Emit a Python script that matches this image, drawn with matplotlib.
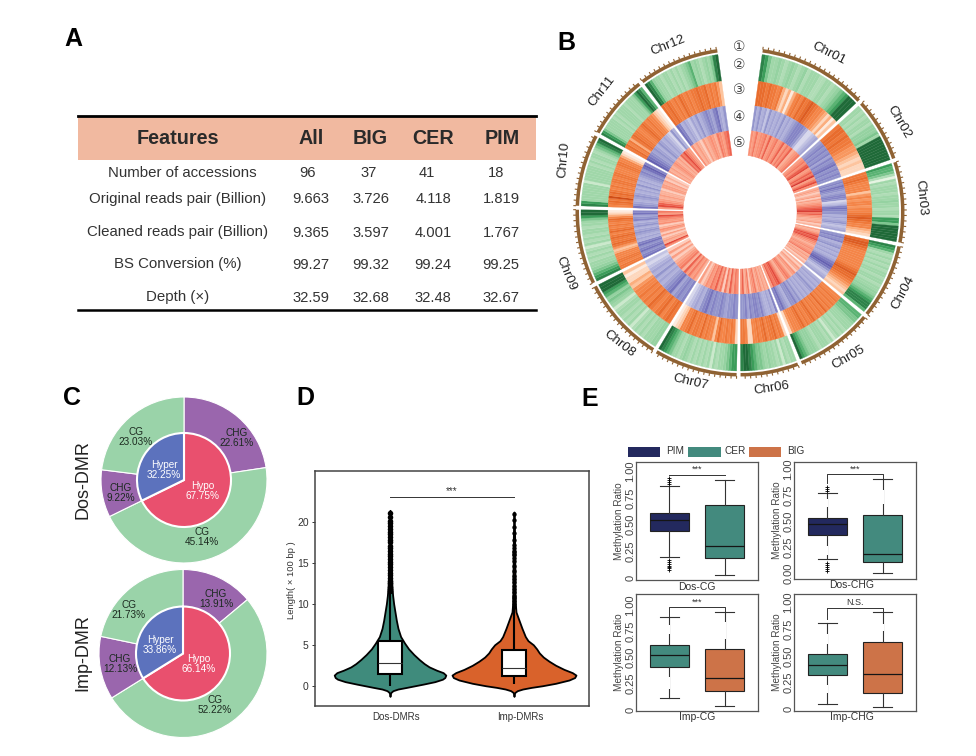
import numpy as np
import matplotlib
matplotlib.use("Agg")
import matplotlib.pyplot as plt
from matplotlib.colors import LinearSegmentedColormap
from matplotlib.patches import Rectangle

plt.rcParams['font.family'] = ['Liberation Sans', 'DejaVu Sans']

W, H = 976, 756

# table (panel A)
table_head = ["Features", "All", "BIG", "CER", "PIM"]
table_rows = ["Number of accessions", "Original reads pair (Billion)", "Cleaned reads pair (Billion)",
              "BS Conversion (%)", "Depth (×)"]
table_all = ["96", "9.663", "9.365", "99.27", "32.59"]
table_big = ["37", "3.726", "3.597", "99.32", "32.68"]
table_cer = ["41", "4.118", "4.001", "99.24", "32.48"]
table_pim = ["18", "1.819", "1.767", "99.25", "32.67"]

# circos (panel B): chromosome spans in degrees clockwise from the top, bins as levels 0-9
chrom_names = ["Chr01", "Chr02", "Chr03", "Chr04", "Chr05", "Chr06",
               "Chr07", "Chr08", "Chr09", "Chr10", "Chr11", "Chr12"]
chrom_start = [8, 48.2, 72.2, 102.2, 130.2, 159.2, 181.2, 212.2, 244.2, 272.2, 299.2, 323.2]
chrom_end = [46.8, 70.8, 100.8, 128.8, 157.8, 179.8, 210.8, 242.8, 270.8, 297.8, 321.8, 352]
ring_green = ["8753343234323423332233234567999", "3323233244453999999999", "766520323332334332332775999999",
              "8763232323233233233445678886", "6655433323232132333234445679", "33231323343455678998",
              "77654332313232323234323356789", "4433323232132323321345467999",
              "87654332323213232332335799", "873333333133333323233235689",
              "87533333232333323333579 86".replace(" ", ""), "9864332332323234563432343589"]
ring_orange = ["7776766563130356576787655431302", "6776766544321211", "667655552454554556787655321",
               "7887655555555678776543212", "55656565756565765657655541", "1565766576565511566",
               "15656557525565756657655210", "6765765675656554231102", "66566555324676676576565675310",
               "56769676565665665556655310", "6756367665567656554210", "767656576565667667565642"]
ring_blue = ["5353425343435343456665311234", "45656564656756565", "5657654566512367655343453234",
             "5656345343434678753234", "34343543434354655345 76".replace(" ", ""), "6343346566564655",
             "5655456556576534321", "6565476543435343212", "76576576343454354365476",
             "754345434353434565786", "87654543543432153", "76343243534565467435"]
ring_red = ["43534453634534635462345", "345467346583574", "23212313234567856432 2312".replace(" ", ""),
            "3235767543234345232312", "2132143245423576563", "3232432543153264",
            "45362515364534213", "2435362543213131", "4723213134214345735",
            "37643232213323121", "3232343232657543", "4232132343254356"]

# pies (panel C)
dos_inner = [67.75, 32.25]
dos_outer = [22.61, 45.14, 9.22, 23.03]
imp_inner = [66.14, 33.86]
imp_outer = [13.91, 52.22, 12.13, 21.73]

# violins (panel D): value, and half width of the outline at that value
dos_y = [-1.3, -1.0, -0.8, -0.6, -0.4, -0.2, 0, 0.2, 0.5, 0.8, 1.0, 1.3, 1.6, 1.9, 2.3, 2.7, 3.2, 3.8, 4.5, 5.2,
         6, 7, 8, 9, 10, 11, 12, 13, 14, 16, 18, 20, 21.4]
dos_w = [0, 1, 3, 9, 24, 50, 75, 100, 135, 158, 165, 168, 160, 140, 118, 103, 88, 72, 56, 44,
         32, 24, 19, 15, 11, 8, 6, 5, 4, 3, 2, 1, 0]
imp_y = [-1.3, -1.0, -0.8, -0.6, -0.4, -0.2, 0, 0.3, 0.7, 1.0, 1.3, 1.6, 2.0, 2.5, 3, 3.5, 4, 4.5, 5, 5.5,
         6, 7, 8, 9, 10, 12, 14, 16, 18, 20, 21.2]
imp_w = [0, 1, 3, 10, 26, 52, 85, 125, 165, 182, 186, 175, 150, 125, 105, 88, 76, 68, 58, 42,
         34, 24, 15, 6, 4, 3, 3, 2, 2, 1, 0]
dos_box = [1.4, 2.8, 5.4, 0.0, 11.5]
imp_box = [1.2, 2.2, 4.4, 0.2, 9.5]
dos_fliers = [11.5, 11.8, 12.1, 12.5, 12.8, 13.1, 13.5, 13.8, 14.1, 14.5, 14.8, 15.1, 15.5, 15.8, 16.1, 16.5, 16.8,
              17.1, 17.5, 17.8, 18.1, 18.5, 18.8, 19.1, 19.5, 19.8, 20.1, 20.6, 21.1]
imp_fliers = [9.6, 10, 10.3, 10.7, 11, 11.4, 11.8, 12.2, 12.6, 13, 13.4, 14, 14.6, 15.2, 15.6, 15.9, 16.1, 16.3,
              16.5, 16.8, 17.2, 17.8, 18.6, 19.4, 20.2, 20.9]
dmr_labels = ["Dos-DMRs", "Imp-DMRs"]

# box plots (panel E): q1, median, q3, low cap, high cap
dos_cg_pim = [0.44, 0.54, 0.61, 0.20, 0.86]
dos_cg_cer = [0.19, 0.30, 0.69, 0.03, 0.92]
dos_chg_pim = [0.37, 0.47, 0.53, 0.135, 0.77]
dos_chg_cer = [0.11, 0.18, 0.565, 0.00, 0.91]
imp_cg_cer = [0.41, 0.52, 0.62, 0.11, 0.89]
imp_cg_big = [0.18, 0.30, 0.585, 0.03, 0.94]
imp_chg_cer = [0.32, 0.42, 0.52, 0.055, 0.81]
imp_chg_big = [0.155, 0.335, 0.63, 0.025, 0.91]
dos_cg_pim_fl = [0.07, 0.09, 0.10, 0.11, 0.13, 0.15, 0.17, 0.88, 0.90, 0.92, 0.94]
dos_chg_pim_fl = [0.02, 0.04, 0.06, 0.08, 0.10, 0.79, 0.81, 0.83]

PIM, CER, BIG = "#23295e", "#438a7e", "#cd7348"


def px_axes(left, top, right, bottom, **kw):
    return fig.add_axes([left / W, 1 - bottom / H, (right - left) / W, (bottom - top) / H], **kw)


def label(x, y, s, **kw):
    kw.setdefault("ha", "center")
    kw.setdefault("va", "center")
    fig.text(x / W, 1 - y / H, s, **kw)


fig = plt.figure(figsize=(W / 100, H / 100), dpi=100)
bg = px_axes(0, 0, W, H)
bg.set_xlim(0, W)
bg.set_ylim(H, 0)
bg.axis("off")

for s, x, y in zip("ABCDE", [73, 566, 72, 305, 590], [39, 43, 398, 398, 399]):
    label(x, y, s, fontsize=18, fontweight="bold", color="black")

# ---- A
bg.add_patch(Rectangle((78, 117), 458, 43, color="#f1b9a0", lw=0))
bg.plot([78, 536], [116, 116], color="black", lw=2)
bg.plot([78, 536], [310, 310], color="black", lw=1.8)
head_x = [178, 311, 370, 433, 502]
for x, s in zip(head_x, table_head):
    label(x, 139, s, fontsize=14.2, fontweight="bold", color="#2a2a2a")
row_y = [173, 199, 232, 264, 297]
row_x = [182, 178, 178, 178, 178]
for i, y in enumerate(row_y):
    label(row_x[i], y, table_rows[i], fontsize=10.8, color="#333333")
    xs = [308, 369, 427, 496] if i == 0 else [311, 371, 433, 501]
    for x, col in zip(xs, [table_all, table_big, table_cer, table_pim]):
        label(x, y + (0 if i < 2 else 1), col[i], fontsize=10.6, color="#333333")

# ---- B
cx, cy, rmax = 740, 212, 175
polar = px_axes(cx - rmax, cy - rmax, cx + rmax, cy + rmax, projection="polar")
polar.set_theta_zero_location("N")
polar.set_theta_direction(-1)
polar.set_ylim(0, rmax)
polar.axis("off")
polar.patch.set_alpha(0)

cmaps = [LinearSegmentedColormap.from_list("g", ["#e6f4e2", "#a8dab0", "#8fd09c", "#3fa45f", "#1f6a38"]),
         LinearSegmentedColormap.from_list("o", ["#fdeadd", "#fdbf95", "#f68b4f", "#ec7030", "#cf4d17"]),
         LinearSegmentedColormap.from_list("b", ["#ecebf5", "#bcbde0", "#9b9dd0", "#7a78bf", "#544fa6"]),
         LinearSegmentedColormap.from_list("r", ["#fee8df", "#fba98f", "#f8876c", "#e8503f", "#c92a2a"])]
rings = [ring_green, ring_orange, ring_blue, ring_red]
ring_in = [132, 107, 82, 57]
ring_out = [159, 132, 107, 82]

for ring, cmap, r0, r1 in zip(rings, cmaps, ring_in, ring_out):
    for start, end, levels in zip(chrom_start, chrom_end, ring):
        vals = np.array([int(c) for c in levels]) / 9
        edges = np.linspace(start, end, len(vals) + 1)
        cols = cmap(vals)
        polar.bar(np.radians(edges[:-1]), r1 - r0, width=np.radians(edges[1:] - edges[:-1]), bottom=r0,
                  align="edge", color=cols, edgecolor=cols, linewidth=0.2)

BROWN = "#8f6233"
for start, end in zip(chrom_start, chrom_end):
    polar.bar(np.radians(start), 3.5, width=np.radians(end - start), bottom=161, align="edge", color=BROWN, lw=0)
    ticks = np.arange(start, end, 1.9)
    polar.vlines(np.radians(ticks), 164, 166.8, color=BROWN, lw=0.8)

chr_x = [829, 899, 921, 903, 848, 772, 691, 619, 566, 564, 602, 668]
chr_y = [54, 122, 198, 293, 357, 388, 382, 344, 274, 160, 91, 45]
chr_rot = [-27, -60, -85, 62, 30, 9, -13, -38, -68, 85, 52, 22]
for name, x, y, r in zip(chrom_names, chr_x, chr_y, chr_rot):
    label(x, y, name, fontsize=9.5, rotation=r, color="#222222", rotation_mode="anchor")
for s, y in zip("①②③④⑤", [47, 65, 90, 117, 143]):
    label(739, y, s, fontsize=10, color="#444444")

# ---- C
GREEN_P, PURPLE_P, BLUE_P, RED_P = "#9ad3a9", "#9a66ad", "#5c72bd", "#e9506e"
pie_sets = [(184, 480, 83, dos_inner, dos_outer), (183, 653.5, 84, imp_inner, imp_outer)]
for x, y, r, inner, outer in pie_sets:
    ax = px_axes(x - r - 1, y - r - 1, x + r + 1, y + r + 1)
    ax.pie(outer, colors=[PURPLE_P, GREEN_P, PURPLE_P, GREEN_P], startangle=90, counterclock=False, radius=r,
           wedgeprops=dict(edgecolor="white", linewidth=0.8), frame=False)
    ax.pie(inner, colors=[RED_P, BLUE_P], startangle=90, counterclock=False, radius=47,
           wedgeprops=dict(edgecolor="white", linewidth=1.5), frame=False)
    ax.set_xlim(-r - 1, r + 1)
    ax.set_ylim(-r - 1, r + 1)

pie_label_xy = [(237, 438), (202, 537), (121, 493), (136, 437), (216, 599), (215, 705), (120, 664), (129, 610)]
pie_names = ["CHG", "CG", "CHG", "CG", "CHG", "CG", "CHG", "CG"]
for (x, y), name, v in zip(pie_label_xy, pie_names, dos_outer + imp_outer):
    label(x, y, "%s\n%.2f%%" % (name, v), fontsize=7.2, color="#1c2a20", linespacing=0.95)
label(164, 470, "Hyper\n%.2f%%" % dos_inner[1], fontsize=7.2, color="white", linespacing=1.0)
label(203, 491, "Hypo\n%.2f%%" % dos_inner[0], fontsize=7.2, color="white", linespacing=1.0)
label(160, 645, "Hyper\n%.2f%%" % imp_inner[1], fontsize=7.2, color="white", linespacing=1.0)
label(199, 664, "Hypo\n%.2f%%" % imp_inner[0], fontsize=7.2, color="white", linespacing=1.0)
label(83, 480, "Dos-DMR", fontsize=13, rotation=90, color="#222222")
label(83, 653, "Imp-DMR", fontsize=13, rotation=90, color="#222222")

# ---- D
ax = px_axes(315, 471, 589, 706)
ax.set_xlim(0.395, 2.605)
ax.set_ylim(-2.47, 26.2)
violins = [(1, dos_y, dos_w, 0.45 / 168, "#3f8b7c", dos_box, dos_fliers, 16),
           (2, imp_y, imp_w, 0.5 / 186, "#d9622b", imp_box, imp_fliers, 10)]
for pos, ys, ws, scale, col, box, fl, size in violins:
    ws = np.array(ws) * scale
    ax.fill_betweenx(ys, pos - ws, pos + ws, facecolor=col, edgecolor="black", lw=1.3, zorder=2)
    ax.vlines(pos, box[3], box[4], color="black", lw=1.5, zorder=3)
    ax.add_patch(Rectangle((pos - 0.1, box[0]), 0.2, box[2] - box[0], facecolor="white", edgecolor="black", lw=1.5, zorder=4))
    ax.hlines(box[1], pos - 0.1, pos + 0.1, color="#333333", lw=0.8, zorder=5)
    ax.scatter([pos] * len(fl), fl, s=size, color="black", lw=0, zorder=3)
ax.plot([1, 2], [23, 23], color="#333333", lw=0.7)
ax.text(1.5, 23.1, "***", ha="center", va="bottom", fontsize=7, color="#333333")
ax.set_xticks([])
ax.set_yticks([0, 5, 10, 15, 20])
ax.tick_params(labelsize=7.5, length=2.5, width=0.7, colors="#333333", pad=2)
for sp in ax.spines.values():
    sp.set_color("#444444")
    sp.set_linewidth(1.1)
label(396, 717, dmr_labels[0], fontsize=7, color="#333333")
label(520, 717, dmr_labels[1], fontsize=7, color="#333333")
label(292, 580, "Length( × 100 bp )", fontsize=6.8, rotation=90, color="#333333")

# ---- E
panels = [
    (636, 462, 758, 580, (-0.02, 1.09), dos_cg_pim, dos_cg_cer, PIM, CER, dos_cg_pim_fl, [], "Dos-CG",
     ["0", "0.25", "0.50", "0.75", "1.00"], [None, None], "***", [(0.97, 0.97)]),
    (794, 462, 916, 579, (-0.058, 1.074), dos_chg_pim, dos_chg_cer, PIM, CER, dos_chg_pim_fl, [], "Dos-CHG",
     ["0.00", "0.25", "0.50", "0.75", "1.00"], [((0.64, 0.72), (0.17, 0.26)), ((0.67, 0.80), None)], "***", [(0.87, 0.96)]),
    (636, 594, 758, 711, (-0.015, 1.11), imp_cg_cer, imp_cg_big, CER, BIG, [], [], "Imp-CG",
     ["0", "0.25", "0.50", "0.75", "1.00"], [((0.73, 0.81), (0.20, 0.31)), ((0.68, 0.84), None)], "***", [(0.90, 0.985)]),
    (794, 594, 916, 711, (-0.015, 1.08), imp_chg_cer, imp_chg_big, CER, BIG, [], [], "Imp-CHG",
     ["0", "0.25", "0.50", "0.75", "1.00"], [((0.61, 0.71), (0.15, 0.23)), ((0.73, 0.80), None)], "N.S.", [(0.85, 0.95)]),
]
for left, top, right, bottom, ylim, a, b, ca, cb, fl_a, fl_b, name, yt, gaps, sig, br in panels:
    ax = px_axes(left, top, right, bottom)
    stats = []
    for v, fl in ((a, fl_a), (b, fl_b)):
        stats.append(dict(q1=v[0], med=v[1], q3=v[2], whislo=v[3], whishi=v[4], fliers=fl))
    art = ax.bxp(stats, positions=[1, 2], widths=0.7, patch_artist=True,
                 flierprops=dict(marker="+", markersize=2.5, markeredgecolor="black", markeredgewidth=0.6),
                 medianprops=dict(color="#151515", lw=0.9), whiskerprops=dict(color="#333333", lw=0.8),
                 capprops=dict(color="#333333", lw=0.8), boxprops=dict(lw=0.8, edgecolor="#222222"))
    for patch, c in zip(art["boxes"], [ca, cb]):
        patch.set_facecolor(c)
    for pos, g in zip([1, 2], gaps):
        if g is None:
            continue
        for span in g:
            if span is not None:
                ax.vlines(pos, span[0], span[1], color="white", lw=1.5, zorder=5)
    ax.set_xlim(0.4, 2.6)
    ax.set_ylim(*ylim)
    ax.set_xticks([])
    ax.set_yticks([0, 0.25, 0.5, 0.75, 1.0], yt, rotation=90, va="center")
    ax.tick_params(axis="y", length=0, labelsize=8, labelcolor="#444444", pad=0.5)
    low, high = br[0]
    if low == high:
        ax.plot([1, 2], [high, high], color="#333333", lw=0.7)
    else:
        ax.plot([1, 1, 2, 2], [low, high, high, low + 0.04], color="#333333", lw=0.7)
    ax.text(1.5, high + 0.005, sig, ha="center", va="bottom", fontsize=6.5, color="#333333")
    ax.set_ylabel("Methylation Ratio", fontsize=7.2, color="#444444", labelpad=1)
    for sp in ax.spines.values():
        sp.set_color("#555555")
        sp.set_linewidth(0.9)
    label((left + right) / 2 + (0 if left < 700 else -3), bottom + 6.5, name, fontsize=7.5, color="#333333")

for x0, x1, c, s, tx in [(628, 660, PIM, "PIM", 675), (688, 721, CER, "CER", 735), (749, 781, BIG, "BIG", 796)]:
    bg.add_patch(Rectangle((x0, 447), x1 - x0, 10, color=c, lw=0))
    label(tx, 451.5, s, fontsize=7.2, color="#333333")

fig.savefig("out.png", dpi=100)
